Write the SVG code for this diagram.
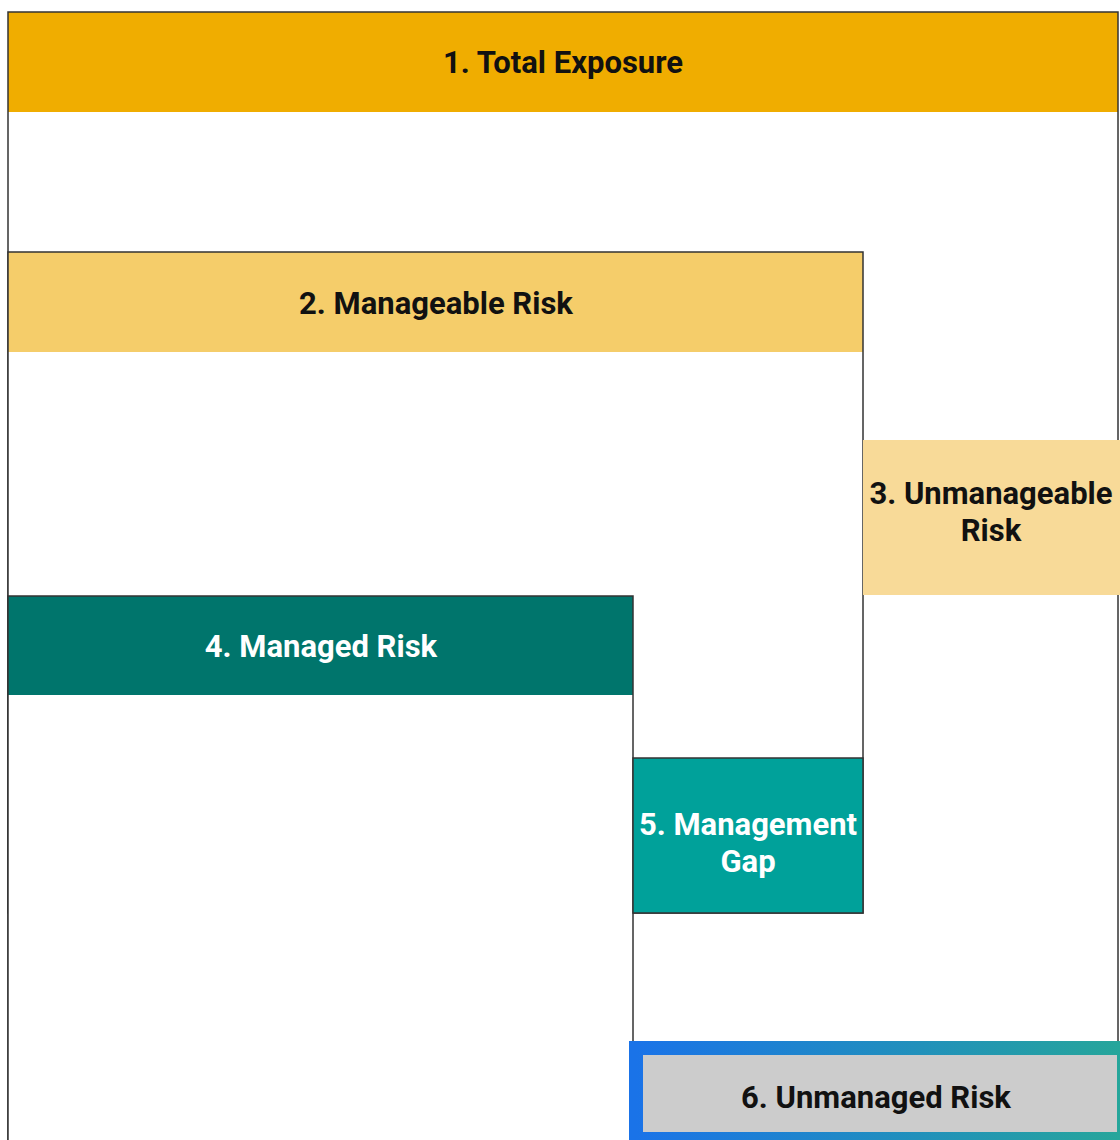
<svg xmlns="http://www.w3.org/2000/svg" width="1120" height="1140" viewBox="0 0 1120 1140">
<defs>
<linearGradient id="g6" x1="0" y1="0" x2="1" y2="0">
<stop offset="0" stop-color="#1a73e8"/>
<stop offset="1" stop-color="#26a69a"/>
</linearGradient>
<style>
.frame{fill:#ffffff;stroke:none}
.outline{fill:none;stroke:#333333;stroke-width:1.5}
.lbl{font-family:Roboto,"Liberation Sans",sans-serif;font-weight:bold;font-size:31px;text-anchor:middle;fill:#111111}
.w{fill:#ffffff}
</style>
</defs>
<rect width="1120" height="1140" fill="#ffffff"/>
<g id="node1">
<rect class="frame" x="8" y="12" width="1110" height="1150"/>
<rect x="8" y="12" width="1110" height="100" fill="#f0ad00"/>
<rect class="outline" x="8" y="12" width="1110" height="1150"/>
<text class="lbl" x="563" y="73">1. Total Exposure</text>
</g>
<g id="node2">
<rect class="frame" x="8" y="252" width="855" height="661"/>
<rect x="8" y="252" width="855" height="100" fill="#f5cd6a"/>
<rect class="outline" x="8" y="252" width="855" height="661"/>
<text class="lbl" x="436" y="314">2. Manageable Risk</text>
</g>
<g id="node3">
<rect x="863" y="440" width="257" height="155" fill="#f8da98"/>
<text class="lbl" x="991" y="504">3. Unmanageable</text>
<text class="lbl" x="991" y="541">Risk</text>
</g>
<g id="node4">
<rect class="frame" x="8" y="596" width="625" height="600"/>
<rect x="8" y="596" width="625" height="99" fill="#00756c"/>
<rect class="outline" x="8" y="596" width="625" height="600"/>
<text class="lbl w" x="321" y="657">4. Managed Risk</text>
</g>
<g id="node5">
<rect x="633" y="758" width="230" height="155" fill="#00a19a" stroke="#333333" stroke-width="1.5"/>
<text class="lbl w" x="748" y="835">5. Management</text>
<text class="lbl w" x="748" y="872">Gap</text>
</g>
<g id="node6">
<rect x="636" y="1048" width="488" height="91" fill="#cccccc" stroke="url(#g6)" stroke-width="14"/>
<text class="lbl" x="876" y="1108">6. Unmanaged Risk</text>
</g>
<g id="connectors"></g>
</svg>
